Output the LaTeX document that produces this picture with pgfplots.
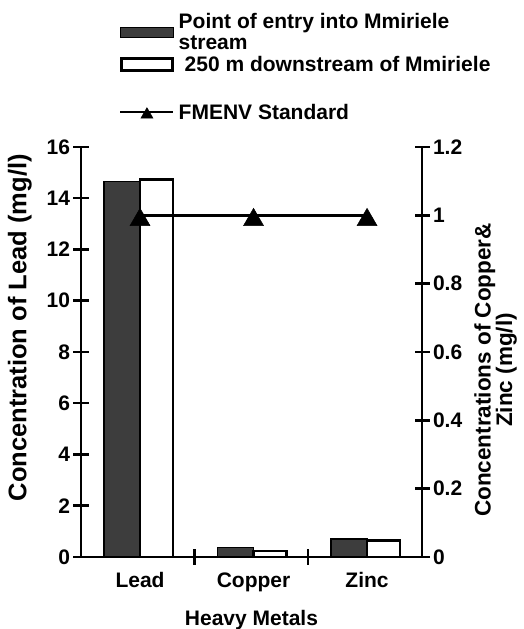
\documentclass[border=0pt]{standalone}
\usepackage{fontspec}
\setmainfont{Liberation Sans}
\usepackage{pgfplots}
\pgfplotsset{compat=1.18}
\begin{document}
\begin{tikzpicture}[x=1pt,y=1pt]
\path[use as bounding box] (0,0) rectangle (523,629);
\pgfplotsset{
 common/.style={
  at={(81pt,72pt)}, anchor=south west,
  scale only axis, width=341pt, height=410pt,
  xmin=-0.52, xmax=2.484, ymin=0,
  tick style={line width=2.5pt, black},
  major tick length=15pt, tick align=center,
  /pgf/number format/assume math mode=true,
  tick label style={font=\bfseries\fontsize{21}{25}\selectfont},
 },
 nolinearrows/.style={
  axis line style={-, line width=2.5pt},
  every outer x axis line/.append style={-},
  every outer y axis line/.append style={-},
  every inner x axis line/.append style={-},
  every inner y axis line/.append style={-},
  x axis line style={-}, y axis line style={-},
 },
 darkbar/.style={ybar, bar width=36pt, bar shift=-18pt, fill=black!76, draw=black, line width=1.5pt,
   legend image code/.code={\draw[fill=black!76, draw=black, line width=1.5pt] (0pt,-5pt) rectangle (53pt,5pt);}},
 whitebar/.style={ybar, bar width=33pt, bar shift=16.5pt, fill=white, draw=black, line width=2.5pt,
   legend image code/.code={\draw[fill=white, draw=black, line width=2.5pt] (1pt,-6pt) rectangle (52pt,6pt);}},
}
\begin{axis}[common, ymax=16,
  axis y line=left, axis x line=bottom, nolinearrows,
  ytick={0,2,4,6,8,10,12,14,16},
  xtick={0.48,1.48}, xticklabels={},
  extra x ticks={0,1,2}, extra x tick labels={Lead,Copper,Zinc},
  extra x tick style={major tick length=0pt, tick label style={yshift=-12pt}},
  xlabel={Heavy Metals},
  xlabel style={at={(axis description cs:0.5,-0.153)}, anchor=center, font=\bfseries\fontsize{21}{25}\selectfont},
  ylabel={Concentration of Lead (mg/l)},
  ylabel style={at={(axis description cs:-0.179,0.559)}, anchor=center, font=\bfseries\fontsize{25.5}{29}\selectfont},
]
\addplot[darkbar] coordinates {(0,14.65)};
\addplot[whitebar] coordinates {(0,14.73)};
\end{axis}
\begin{axis}[common, ymax=1.2,
  axis y line=right, axis x line=none, nolinearrows,
  ytick={0,0.2,0.4,0.6,0.8,1,1.2},
  ylabel={Concentrations of Copper\&\\Zinc (mg/l)},
  ylabel style={at={(axis description cs:1.2155,0.456)}, anchor=center, align=center, font=\bfseries\fontsize{22.5}{21.5}\selectfont},
  legend style={at={(0.1114,1.326)}, anchor=north west, draw=none, fill=none, inner sep=0pt,
    row sep=5pt, column sep=4pt,
    nodes={inner sep=0pt, align=left, font=\bfseries\fontsize{21}{21}\selectfont}},
  legend cell align=left,
]
\addplot[darkbar] coordinates {(1,0.028) (2,0.052)};
\addlegendentry{Point of entry into Mmiriele\\stream}
\addplot[whitebar] coordinates {(1,0.017) (2,0.048)};
\addlegendentry{\hspace{6pt}250 m downstream of Mmiriele}
\addplot[sharp plot, line width=2.5pt, mark=triangle*, mark size=11.5pt, mark options={solid, line width=0.5pt, yshift=-4.5pt},
  legend image code/.code={\draw[line width=2.5pt] (0pt,0pt) -- (53pt,0pt);
     \draw[fill=black, mark size=7pt, line width=0.5pt] plot[mark=triangle*, mark options={yshift=-2.5pt}] coordinates {(26.5pt,0pt)};
     \path (0pt,33pt);}]
  coordinates {(0,1) (1,1) (2,1)};
\addlegendentry{FMENV Standard}
\end{axis}
\end{tikzpicture}
\end{document}
